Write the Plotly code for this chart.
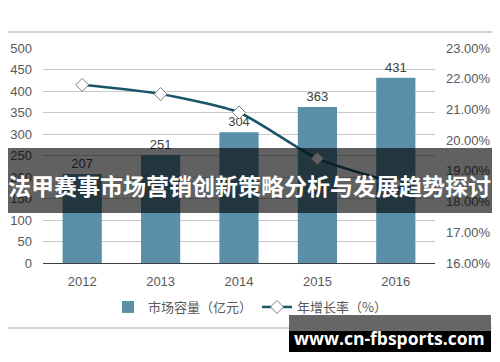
import plotly.graph_objects as go

years = ["2012", "2013", "2014", "2015", "2016"]
market_size = [207, 251, 304, 363, 431]
growth_rate = [21.8, 21.5, 20.9, 19.4, 18.6]
bar_name = "市场容量（亿元）"
line_name = "年增长率（%）"
banner_text = "法甲赛事市场营销创新策略分析与发展趋势探讨"
watermark_text = "www.cn-fbsports.com"

OFF = 8  # default page body margin
W, H = 500 - OFF, 362 - OFF
L, R, T, B = 43, 435, 48, 263  # plot area in screen pixels

def px(x):
    return (x - L) / (R - L)

def py(y):
    return (B - y) / (B - T)

fig = go.Figure()
fig.add_trace(go.Bar(
    x=years, y=market_size, name=bar_name,
    marker=dict(color="#5b8fa9", line=dict(width=0)),
    width=0.5,
    text=[str(v) for v in market_size], textposition="outside",
    textfont=dict(size=13, color="#404040", family="Liberation Sans"),
    cliponaxis=False,
))
fig.add_trace(go.Scatter(
    x=years, y=growth_rate, name=line_name, yaxis="y2",
    mode="lines+markers",
    line=dict(color="#1a5468", width=2.5, shape="spline", smoothing=0.6),
    marker=dict(symbol="diamond", size=10, color="white",
                line=dict(color="#808080", width=1)),
))

fig.update_layout(
    width=W, height=H,
    margin=dict(l=L - OFF, r=W - (R - OFF), t=T - OFF, b=H - (B - OFF), pad=0, autoexpand=False),
    paper_bgcolor="white", plot_bgcolor="white",
    font=dict(family="Liberation Sans, Arial", size=13, color="#595959"),
    showlegend=True,
    legend=dict(orientation="h", x=px(250), xanchor="center", y=py(307), yanchor="middle",
                font=dict(size=13, color="#595959", family="Noto Sans CJK SC"),
                itemwidth=30, bgcolor="rgba(0,0,0,0)"),
    xaxis=dict(showgrid=False, showline=True, linecolor="#404040", linewidth=1,
               ticks="", tickfont=dict(size=13, color="#595959"), ticklabelstandoff=6,
               fixedrange=True),
    yaxis=dict(range=[0, 500], dtick=50, showgrid=True, gridcolor="#c8c8c8", gridwidth=1,
               zeroline=False, showline=False, ticks="", ticklabelstandoff=10,
               tickfont=dict(size=13, color="#595959")),
    yaxis2=dict(range=[16, 23], dtick=1, overlaying="y", side="right", showgrid=False,
                zeroline=False, showline=False, tickformat=".2f", ticksuffix="%",
                ticks="", ticklabelstandoff=10, tickfont=dict(size=13, color="#595959")),
    shapes=[
        dict(type="rect", xref="paper", yref="paper",
             x0=px(3), x1=px(497), y0=py(328), y1=py(32),
             line=dict(color="#a6a6a6", width=1), fillcolor="rgba(0,0,0,0)", layer="below"),
        dict(type="rect", xref="paper", yref="paper",
             x0=px(8), x1=px(492), y0=py(213), y1=py(148),
             line=dict(width=0), fillcolor="rgba(0,0,0,0.62)", layer="above"),
        dict(type="rect", xref="paper", yref="paper",
             x0=px(289), x1=px(491), y0=py(331), y1=py(315),
             line=dict(width=0), fillcolor="#666666", layer="above"),
        dict(type="rect", xref="paper", yref="paper",
             x0=px(289), x1=px(491), y0=py(352), y1=py(331),
             line=dict(width=0), fillcolor="#000000", layer="above"),
    ],
    annotations=[
        dict(text="<b>" + banner_text + "</b>", xref="paper", yref="paper",
             x=px(250), y=py(185), xanchor="center", yanchor="middle", showarrow=False,
             font=dict(size=23, color="white", family="Noto Sans CJK SC")),
        dict(text="<b>" + watermark_text + "</b>", xref="paper", yref="paper",
             x=px(389), y=py(338), xanchor="center", yanchor="middle", showarrow=False,
             font=dict(size=17.5, color="white", family="Open Sans")),
    ],
)

fig.write_html("out.html")
